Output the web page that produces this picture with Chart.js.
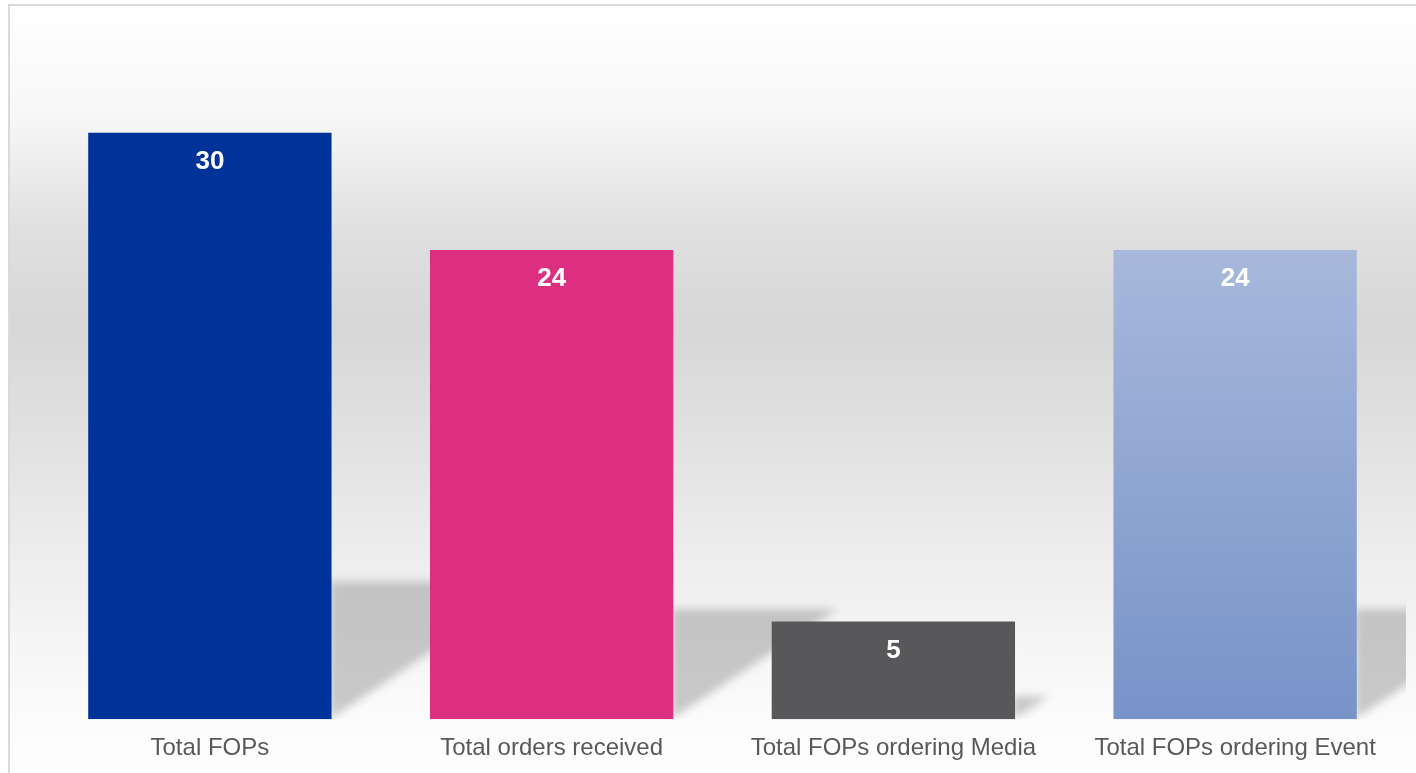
<!DOCTYPE html>
<html lang="en">
<head>
  <meta charset="UTF-8">
  <title>FOP orders</title>
  <script src="https://cdn.jsdelivr.net/npm/chart.js"></script>
  <style>
    html, body { margin: 0; padding: 0; background: #fff; overflow: hidden; }
    .frame {
      position: absolute; left: 8px; top: 4px; width: 1430px; height: 800px;
      border: 2px solid #dadada;
      background: linear-gradient(to bottom,
        #ffffff 0px, #f7f7f7 110px, #dfdfdf 230px, #d7d7d7 320px,
        #e2e2e2 440px, #eeeeee 560px, #f8f8f8 670px, #fdfdfd 740px, #ffffff 790px);
    }
    .chart-container { position: absolute; left: 0; top: 0; width: 1416px; height: 778px; }
  </style>
</head>
<body>
  <div class="frame"></div>
  <div class="chart-container">
    <canvas id="fop-chart" width="1416" height="778"></canvas>
  </div>
  <script>
    const categories = ['Total FOPs', 'Total orders received', 'Total FOPs ordering Media', 'Total FOPs ordering Event'];
    const counts = [30, 24, 5, 24];
    const barColors = ['#003399', '#dc2f80', '#58585a', null];

    // soft floor shadow behind each bar
    const barShadows = {
      id: 'barShadows',
      beforeDatasetsDraw(chart) {
        const ctx = chart.ctx;
        const area = chart.chartArea;
        ctx.save();
        ctx.beginPath();
        ctx.rect(area.left, area.top, area.right - area.left, area.bottom - area.top);
        ctx.clip();
        ctx.filter = 'blur(4px)';
        ctx.fillStyle = 'rgba(150,150,150,0.5)';
        chart.getDatasetMeta(0).data.forEach(bar => {
          const h = bar.base - bar.y;
          const right = bar.x + bar.width / 2;
          const top = bar.base - h * 0.235;
          const w = h * 0.35;
          ctx.beginPath();
          ctx.moveTo(right - 2, bar.base);
          ctx.lineTo(right - 2, top);
          ctx.lineTo(right + w, top);
          ctx.closePath();
          ctx.fill();
        });
        ctx.restore();
      }
    };

    const valueLabels = {
      id: 'valueLabels',
      afterDatasetsDraw(chart) {
        const ctx = chart.ctx;
        ctx.save();
        ctx.font = 'bold 26px "Liberation Sans", Arial, sans-serif';
        ctx.fillStyle = '#ffffff';
        ctx.textAlign = 'center';
        ctx.textBaseline = 'middle';
        chart.getDatasetMeta(0).data.forEach((bar, i) => {
          ctx.fillText(String(counts[i]), bar.x, bar.y + 29);
        });
        ctx.restore();
      }
    };

    const ctx = document.getElementById('fop-chart').getContext('2d');
    new Chart(ctx, {
      type: 'bar',
      data: {
        labels: categories,
        datasets: [{
          data: counts,
          backgroundColor: (c) => {
            const i = c.dataIndex;
            if (barColors[i]) return barColors[i];
            const area = c.chart.chartArea;
            if (!area) return '#8ea4d2';
            const g = c.chart.ctx.createLinearGradient(0, c.chart.scales.y.getPixelForValue(24), 0, area.bottom);
            g.addColorStop(0, '#a7b8db');
            g.addColorStop(1, '#7793c8');
            return g;
          },
          borderWidth: 0,
          barPercentage: 0.712,
          categoryPercentage: 1
        }]
      },
      options: {
        responsive: false,
        animation: false,
        layout: { padding: { left: 39, right: 10, top: 35, bottom: 0 } },
        plugins: { legend: { display: false }, tooltip: { enabled: false } },
        scales: {
          x: {
            grid: { display: false, drawTicks: false },
            border: { display: false },
            ticks: {
              color: '#595959',
              padding: 15,
              maxRotation: 0,
              font: { family: '"Liberation Sans", Arial, sans-serif', size: 24 }
            }
          },
          y: { display: false, min: 0, max: 35 }
        }
      },
      plugins: [barShadows, valueLabels]
    });
  </script>
</body>
</html>
